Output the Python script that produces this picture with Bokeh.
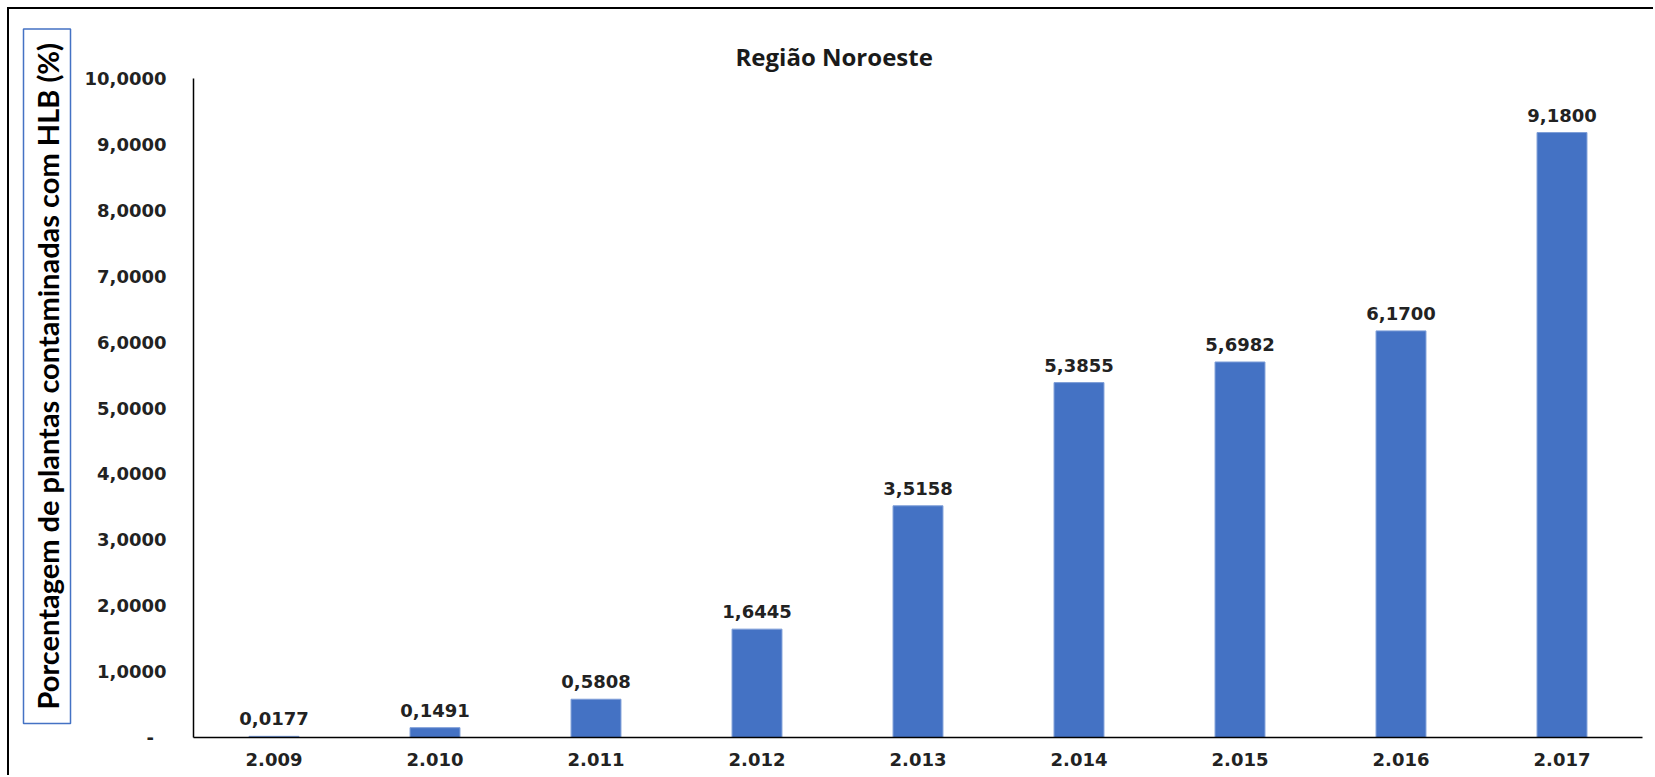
from bokeh.plotting import figure
from bokeh.models import Range1d, FixedTicker, Title, ColumnDataSource, LabelSet
from bokeh.core.properties import value
from bokeh.embed import file_html
from bokeh.resources import INLINE

# ---- data ----
years = ["2.009", "2.010", "2.011", "2.012", "2.013", "2.014", "2.015", "2.016", "2.017"]
values = [0.0177, 0.1491, 0.5808, 1.6445, 3.5158, 5.3855, 5.6982, 6.1700, 9.1800]
value_labels = ["0,0177", "0,1491", "0,5808", "1,6445", "3,5158", "5,3855", "5,6982", "6,1700", "9,1800"]
y_ticks = [0, 1, 2, 3, 4, 5, 6, 7, 8, 9, 10]
y_tick_labels = ["-\u00a0\u00a0", "1,0000", "2,0000", "3,0000", "4,0000", "5,0000",
                 "6,0000", "7,0000", "8,0000", "9,0000", "10,0000"]
chart_title = "Região Noroeste"
y_title = "Porcentagem de plantas contaminadas com HLB (%)"

# ---- figure ----
W, H = 1646, 768
p = figure(width=W, height=H, output_backend="svg", toolbar_location=None,
           x_range=Range1d(0, len(years)), y_range=Range1d(0, 10),
           min_border_left=184, min_border_right=13, min_border_top=69, min_border_bottom=40)
p.styles = {"border-top": "2px solid black", "border-left": "2px solid black",
            "margin-left": "7px", "margin-top": "7px"}
p.outline_line_color = None
p.xgrid.visible = False
p.ygrid.visible = False
p.background_fill_color = "white"
p.border_fill_color = "white"

xs = [i + 0.5 for i in range(len(years))]
src = ColumnDataSource(dict(x=xs, top=values, label=value_labels))
p.vbar(x="x", top="top", width=0.31, bottom=0, source=src,
       fill_color="#4472C4", line_color="#7E9ED8", line_width=1)

labels = LabelSet(x="x", y="top", text="label", source=src, text_align="center",
                  text_baseline="bottom", y_offset=11,
                  text_font=value("DejaVu Sans"), text_font_style="bold",
                  text_font_size="18px", text_color="#222222")
p.add_layout(labels)

# axes
p.xaxis.ticker = FixedTicker(ticks=xs)
p.xaxis.major_label_overrides = {x: y for x, y in zip(xs, years)}
p.yaxis.ticker = FixedTicker(ticks=y_ticks)
p.yaxis.major_label_overrides = {t: l for t, l in zip(y_ticks, y_tick_labels)}
for ax in (p.xaxis, p.yaxis):
    ax.major_tick_line_color = None
    ax.minor_tick_line_color = None
    ax.major_tick_out = 0
    ax.major_tick_in = 0
    ax.minor_tick_out = 0
    ax.minor_tick_in = 0
    ax.axis_line_color = "black"
    ax.axis_line_width = 1.5
    ax.major_label_text_font = "DejaVu Sans"
    ax.major_label_text_font_style = "bold"
    ax.major_label_text_font_size = "18px"
    ax.major_label_text_color = "#222222"
p.yaxis.major_label_standoff = 27
p.xaxis.major_label_standoff = 15

# chart title
p.title.text = chart_title
p.title.align = "left"
p.title.offset = 542
p.title.vertical_align = "middle"
p.title.text_font = "Open Sans"
p.title.text_font_style = "bold"
p.title.text_font_size = "24px"
p.title.text_color = "#1a1a1a"
p.title.standoff = 10

# y title inside a blue box
yt = Title(text=y_title, align="left", offset=14, vertical_align="middle",
           standoff=4, text_font="Lato", text_font_style="bold",
           text_font_size="29px", text_color="black",
           border_line_color="#4472C4", border_line_width=1.5,
           background_fill_color="white", padding=(14, 6))
p.add_layout(yt, "left")

open("out.html", "w").write(file_html(p, INLINE))
